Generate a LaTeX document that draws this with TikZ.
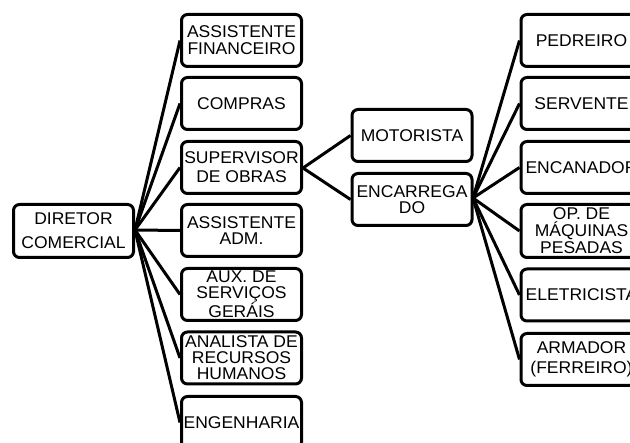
\documentclass[tikz,border=0pt]{standalone}
\usepackage{fontspec}
\setmainfont{Liberation Sans}[FakeStretch=1.03]
\begin{document}
\begin{tikzpicture}[x=1pt,y=-1pt,
  box/.style={draw=black,line width=3pt,rounded corners=6pt,fill=white,
    minimum width=120pt,minimum height=52pt,inner sep=0pt,align=center,
    font=\fontsize{17}{16}\selectfont},
  ls/.style={font=\fontsize{17}{#1}\selectfont},
  link/.style={line width=3pt,black}]
\useasboundingbox (0,0) rectangle (630,443);
\begin{scope}
\clip (0,0) rectangle (630,443);
% left column
\node[box,minimum height=53pt,ls=24] (dir) at (73.5,231) {DIRETOR\\COMERCIAL};
\node[box,ls=17] (af) at (241.5,40.5) {ASSISTENTE\\FINANCEIRO};
\node[box] (com) at (241.5,103.5) {COMPRAS};
\node[box,ls=19] (sup) at (241.5,167.5) {SUPERVISOR\\DE OBRAS};
\node[box] (adm) at (241.5,230.5) {ASSISTENTE\\ADM.};
\node[box,ls=16] (aux) at (241.5,294.5) {AUX. DE\\SERVIÇOS\\GERÁIS};
\node[box] (rh) at (241.5,358) {ANALISTA DE\\RECURSOS\\HUMANOS};
\node[box] (eng) at (241.5,422.5) {ENGENHARIA};
% middle
\node[box] (mot) at (412,135.5) {MOTORISTA};
\node[box,ls=16.5] (enc) at (412,199.5) {ENCARREGA\\DO};
% right column
\node[box,minimum width=121pt] (ped) at (581.5,40.5) {PEDREIRO};
\node[box,minimum width=121pt] (ser) at (581.5,103.5) {SERVENTE};
\node[box,minimum width=121pt] (encan) at (581.5,167.5) {ENCANADOR};
\node[box,minimum width=121pt,minimum height=53pt,ls=17] (op) at (581.5,231) {OP. DE\\MÁQUINAS\\PESADAS};
\node[box,minimum width=121pt] (ele) at (581.5,295) {ELETRICISTA};
\node[box,minimum width=121pt,ls=20] (arm) at (581.5,359.5) {ARMADOR\\(FERREIRO)};
% connectors
\coordinate (hub) at (135,230);
\coordinate (hubs) at (303,168);
\coordinate (hube) at (473,198);
\foreach \t in {af,com,sup,adm,aux,rh,eng}
  \draw[link] (hub) -- (\t.west);
\foreach \t in {mot,enc}
  \draw[link] (hubs) -- (\t.west);
\foreach \t in {ped,ser,encan,op,ele,arm}
  \draw[link] (hube) -- (\t.west);
\end{scope}
\end{tikzpicture}
\end{document}
